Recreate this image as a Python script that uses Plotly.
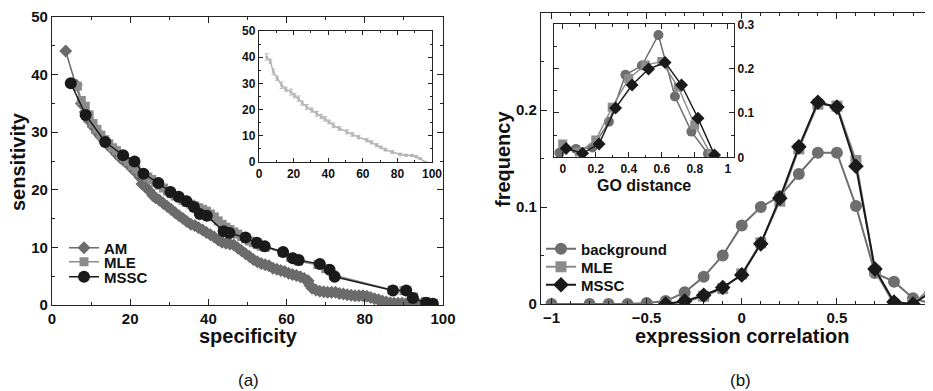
import plotly.graph_objects as go

# browser page has an 8px body margin; the figure is sized so that it fills the 933x391 window
OFF = 8
W, H = 933 - OFF, 391 - OFF

# ---------- panel (a) data ----------
am_spec = [3.5, 6.2, 7.5, 8.5, 9.5, 10.5, 11.5, 12.5, 13.5, 14.5, 15.5, 16.5, 17.5, 18.5, 19.5,
           20.5, 21.5, 22.5, 23.0, 23.8, 24.8, 25.8, 26.5, 27.5, 28.5, 29.5, 30.5, 31.5, 32.5,
           33.5, 34.5, 35.5, 36.5, 37.5, 38.5, 39.5, 40.5, 41.5, 42.5, 43.5, 44.5, 45.5, 46.5,
           47.5, 48.5, 49.5, 50.5, 51.5, 52.5, 53.5, 54.5, 55.5, 56.5, 57.5, 58.5, 59.5, 60.5,
           61.5, 62.5, 63.5, 64.5, 65.5, 66.0, 66.5, 67.5, 68.5, 69.5, 70.5, 71.5, 72.5, 73.5,
           74.5, 75.5, 76.5, 77.5, 78.5, 79.5, 80.5, 81.5, 82.5, 83.5, 84.5, 85.5, 86.5, 87.5,
           88.5, 89.5, 90.5, 91.5, 93.0, 94.5]
am_sens = [44.1, 38.2, 35.0, 33.5, 32.0, 31.0, 30.0, 29.2, 28.4, 27.6, 27.0, 26.2, 25.5, 25.0, 24.4,
           23.7, 23.0, 22.2, 21.0, 20.6, 19.9, 19.0, 18.6, 18.2, 17.6, 17.1, 16.6, 16.0, 15.5,
           15.0, 14.5, 14.0, 13.8, 13.4, 13.0, 12.6, 12.2, 11.8, 11.3, 10.9, 10.7, 10.6, 10.4,
           9.9, 9.4, 8.9, 8.4, 7.9, 7.5, 7.2, 7.0, 6.8, 6.4, 6.2, 6.0, 5.8, 5.5,
           5.3, 5.1, 4.9, 4.6, 4.2, 3.4, 2.9, 2.6, 2.4, 2.3, 2.2, 2.2, 2.2, 2.0,
           1.9, 1.8, 1.7, 1.6, 1.6, 1.6, 1.5, 1.3, 1.1, 0.9, 0.7, 0.5, 0.4, 0.3,
           0.3, 0.3, 0.2, 0.2, 0.1, 0.1]

mle_spec = [6.5, 7.5, 8.5, 9.5, 10.5, 11.5, 12.5, 13.5, 14.5, 15.5, 16.5, 17.5, 18.5, 19.5, 20.5,
            21.5, 22.5, 23.5, 24.5, 25.5, 26.5, 27.5, 28.5, 29.5, 30.5, 31.5, 32.5, 33.5, 34.5,
            35.5, 36.5, 37.5, 38.5, 39.5, 40.5, 41.5, 42.5, 43.5, 44.5, 45.5, 46.5, 47.5, 48.5,
            49.5, 50.5, 51.5, 52.5, 53.5, 54.5, 59.0, 61.0, 63.0, 68.0, 70.0, 72.0, 87.0, 90.0,
            92.5, 95.5, 97.5]
mle_sens = [38.0, 35.5, 34.5, 33.0, 31.5, 30.5, 29.5, 28.7, 28.0, 27.3, 26.8, 26.0, 25.5, 24.9, 24.2,
            23.6, 23.0, 22.6, 22.2, 21.8, 21.3, 20.8, 20.3, 19.8, 19.3, 18.9, 18.6, 18.2, 17.8,
            17.5, 17.2, 16.9, 16.6, 16.3, 15.8, 15.3, 14.6, 14.0, 13.5, 13.1, 12.7, 12.3, 11.9,
            11.5, 11.1, 10.8, 10.5, 10.2, 10.0, 9.1, 8.3, 7.6, 7.0, 6.3, 5.2, 2.6, 2.5,
            1.4, 0.6, 0.3]

mssc_spec = [4.8, 8.6, 13.6, 18.2, 21.1, 23.4, 27.2, 30.3, 32.4, 34.4, 36.3, 37.8, 39.6, 43.9, 45.4,
             49.5, 52.4, 54.4, 59.1, 61.6, 63.1, 68.5, 71.0, 72.3, 87.2, 90.6, 92.3, 95.7, 97.4]
mssc_sens = [38.5, 33.0, 28.3, 26.0, 24.9, 22.8, 21.2, 19.6, 18.8, 18.0, 17.0, 15.8, 15.5, 12.8, 12.5,
             11.7, 10.8, 10.2, 9.2, 8.1, 7.8, 7.1, 6.1, 4.9, 2.5, 2.5, 1.2, 0.4, 0.2]

inset_spec = [4.4, 6.5, 8.3, 10.5, 13.1, 15.5, 18.5, 20.5, 22.8, 25.0, 27.6, 30.5, 33.4, 36.0, 38.2,
              40.5, 43.0, 46.5, 50.8, 54.0, 57.5, 62.4, 65.0, 68.1, 70.5, 73.0, 77.0, 81.7, 85.0,
              88.4, 91.0, 93.2, 96.1]
inset_sens = [40.1, 38.5, 34.4, 32.0, 29.3, 27.8, 26.7, 25.3, 24.2, 22.5, 21.0, 19.8, 18.4, 17.3, 16.5,
              15.3, 14.0, 12.8, 11.5, 10.5, 9.5, 8.3, 7.5, 6.4, 5.6, 4.7, 3.8, 2.9, 2.6,
              2.5, 2.0, 1.3, 0.0]
inset_err = [1.2, 0.8, 1.1, 0.8, 1.2, 0.8, 1.1, 0.8, 1.0, 0.8, 0.9, 0.8, 0.9, 0.8, 0.9,
             0.7, 0.9, 0.7, 0.8, 0.7, 0.7, 0.6, 0.6, 0.6, 0.5, 0.5, 0.5, 0.5, 0.4,
             0.4, 0.4, 0.3, 0.2]

# ---------- panel (b) data ----------
corr_x = [-1.0, -0.9, -0.8, -0.7, -0.6, -0.5, -0.4, -0.3, -0.2, -0.1, 0.0,
          0.1, 0.2, 0.3, 0.4, 0.5, 0.6, 0.7, 0.8, 0.9, 1.0]
bg_freq = [0.0, None, 0.0, 0.0, 0.0, 0.001, 0.003, 0.012, 0.028, 0.050, 0.081,
           0.100, 0.111, 0.134, 0.156, 0.156, 0.101, 0.032, 0.023, 0.006, 0.0]
mle_freq = [None, None, None, None, None, None, 0.0, 0.002, 0.008, 0.016, 0.031,
            0.063, 0.106, 0.160, 0.206, 0.204, 0.148, 0.034, 0.0, 0.0, 0.018]
mssc_freq = [None, None, None, None, None, None, 0.0, 0.003, 0.009, 0.017, 0.030,
             0.062, 0.109, 0.162, 0.208, 0.203, 0.142, 0.036, 0.002, 0.0, 0.013]

go_bg_x = [-0.02, 0.08, 0.18, 0.28, 0.38, 0.48, 0.58, 0.68, 0.78, 0.88]
go_bg = [0.010, 0.019, 0.022, 0.080, 0.186, 0.207, 0.276, 0.137, 0.058, 0.008]
go_mle_x = [0.0, 0.1, 0.2, 0.3, 0.4, 0.5, 0.6, 0.7, 0.8, 0.9]
go_mle = [0.030, 0.012, 0.039, 0.113, 0.178, 0.208, 0.216, 0.158, 0.073, 0.005]
go_mssc_x = [0.02, 0.12, 0.22, 0.32, 0.42, 0.52, 0.62, 0.72, 0.82, 0.92]
go_mssc = [0.020, 0.009, 0.030, 0.111, 0.163, 0.199, 0.214, 0.163, 0.088, 0.005]

C_AM = "#6b6b6b"
C_MLE = "#8c8c8c"
C_DARK = "#1a1a1a"
C_BG = "#6e6e6e"
C_INSET = "#b5b5b5"
FONT = "Liberation Sans"

fig = go.Figure()

# panel a
fig.add_trace(go.Scatter(x=am_spec, y=am_sens, name="<b>AM</b>", mode="lines+markers",
                         line=dict(color=C_AM, width=1.5),
                         marker=dict(symbol="diamond", size=10, color=C_AM),
                         xaxis="x", yaxis="y", legend="legend"))
fig.add_trace(go.Scatter(x=mle_spec, y=mle_sens, name="<b>MLE</b>", mode="lines+markers",
                         line=dict(color=C_MLE, width=1.5),
                         marker=dict(symbol="square", size=9, color=C_MLE),
                         xaxis="x", yaxis="y", legend="legend2"))
fig.add_trace(go.Scatter(x=mssc_spec, y=mssc_sens, name="<b>MSSC</b>", mode="lines+markers",
                         line=dict(color=C_DARK, width=1.5),
                         marker=dict(symbol="circle", size=12, color=C_DARK),
                         xaxis="x", yaxis="y", legend="legend3"))
# inset a
fig.add_trace(go.Scatter(x=inset_spec, y=inset_sens, mode="lines+markers", showlegend=False,
                         line=dict(color=C_INSET, width=1.5),
                         marker=dict(size=3, color=C_INSET),
                         error_y=dict(type="data", array=inset_err, color=C_INSET, thickness=1, width=2),
                         xaxis="x2", yaxis="y2"))

# panel b
fig.add_trace(go.Scatter(x=corr_x, y=bg_freq, name="<b>background</b>", mode="lines+markers",
                         connectgaps=True,
                         line=dict(color=C_BG, width=2),
                         marker=dict(symbol="circle", size=12, color=C_BG),
                         xaxis="x3", yaxis="y3", legend="legend4"))
fig.add_trace(go.Scatter(x=corr_x, y=mle_freq, name="<b>MLE</b>", mode="lines+markers",
                         line=dict(color=C_MLE, width=2),
                         marker=dict(symbol="square", size=11, color=C_MLE),
                         xaxis="x3", yaxis="y3", legend="legend5"))
fig.add_trace(go.Scatter(x=corr_x, y=mssc_freq, name="<b>MSSC</b>", mode="lines+markers",
                         line=dict(color=C_DARK, width=2),
                         marker=dict(symbol="diamond", size=12, color=C_DARK),
                         xaxis="x3", yaxis="y3", legend="legend6"))
# inset b
fig.add_trace(go.Scatter(x=go_bg_x, y=go_bg, mode="lines+markers", showlegend=False,
                         line=dict(color=C_BG, width=1.5),
                         marker=dict(symbol="circle", size=10, color=C_BG),
                         xaxis="x4", yaxis="y4"))
fig.add_trace(go.Scatter(x=go_mle_x, y=go_mle, mode="lines+markers", showlegend=False,
                         line=dict(color=C_MLE, width=1.5),
                         marker=dict(symbol="square", size=9, color=C_MLE),
                         xaxis="x4", yaxis="y4"))
fig.add_trace(go.Scatter(x=go_mssc_x, y=go_mssc, mode="lines+markers", showlegend=False,
                         line=dict(color=C_DARK, width=1.5),
                         marker=dict(symbol="diamond", size=10, color=C_DARK),
                         xaxis="x4", yaxis="y4"))


def px(v):  # screen x pixel -> paper fraction
    return (v - OFF) / W


def py(v):  # screen y pixel -> paper fraction
    return 1 - (v - OFF) / H


def ax(domain, rng, dtick, minor, anchor, fs, mirror="ticks", side=None, tlen=6):
    d = dict(domain=domain, range=rng, dtick=dtick, tick0=0, anchor=anchor,
             showline=True, linecolor="#222", linewidth=1.3, automargin=False,
             ticks="inside", ticklen=tlen, tickwidth=1.2, tickcolor="#222",
             minor=dict(dtick=minor, ticks="inside", ticklen=tlen / 2, tickwidth=1.2, tickcolor="#222"),
             showgrid=False, zeroline=False, mirror=mirror,
             tickfont=dict(family=FONT, size=fs, color="#111", weight="bold"))
    if side:
        d["side"] = side
    return d


def leg(x, y):
    return dict(x=px(x), y=py(y), xanchor="left", yanchor="middle", bgcolor="rgba(0,0,0,0)",
                font=dict(family=FONT, size=15, color="#111"), itemwidth=30,
                borderwidth=0)


layout = dict(
    width=W, height=H, margin=dict(l=0, r=0, t=0, b=0, autoexpand=False),
    paper_bgcolor="white", plot_bgcolor="white",
    font=dict(family=FONT, color="#111"),
    xaxis=ax([px(52), px(443)], [0, 100], 20, 10, "y", 15),
    yaxis=ax([py(305), py(17)], [0, 50], 10, 5, "x", 15),
    xaxis2=ax([px(259), px(432)], [0, 100], 20, 10, "y2", 12, tlen=4),
    yaxis2=ax([py(162), py(31)], [0, 50], 10, 5, "x2", 12, tlen=4),
    xaxis3=ax([px(541), 1.0], [-1.055, 1.005], 0.5, 0.1, "y3", 15),
    yaxis3=ax([py(304), py(13)], [0, 0.3], 0.1, 0.05, "x3", 15, mirror=False),
    xaxis4=ax([px(554), px(734)], [-0.053, 1.038], 0.2, 0.1, "y4", 12, tlen=5),
    yaxis4=ax([py(157.3), py(24.3)], [0, 0.3], 0.1, 0.05, "x4", 12, side="right", tlen=5),
    legend=leg(64, 248),
    legend2=leg(64, 262),
    legend3=leg(64, 277),
    legend4=leg(541, 249),
    legend5=leg(541, 267),
    legend6=leg(541, 285),
    showlegend=True,
)

fig.update_layout(**layout)

bold = dict(family=FONT, size=20, color="#111", weight="bold")
annots = [
    dict(text="specificity", x=px(248), y=py(336), font=bold, textangle=0),
    dict(text="sensitivity", x=px(18), y=py(162), font=bold, textangle=-90),
    dict(text="expression correlation", x=px(742), y=py(336), font=bold, textangle=0),
    dict(text="frequency", x=px(503), y=py(159), font=bold, textangle=-90),
    dict(text="GO distance", x=px(644), y=py(185), font=dict(family=FONT, size=16, color="#111", weight="bold"), textangle=0),
    dict(text="(a)", x=px(248), y=py(380), font=dict(family=FONT, size=17, color="#111"), textangle=0),
    dict(text="(b)", x=px(740), y=py(380), font=dict(family=FONT, size=17, color="#111"), textangle=0),
]
for a in annots:
    fig.add_annotation(xref="paper", yref="paper", showarrow=False, xanchor="center", yanchor="middle", **a)

fig.write_html("out.html")
